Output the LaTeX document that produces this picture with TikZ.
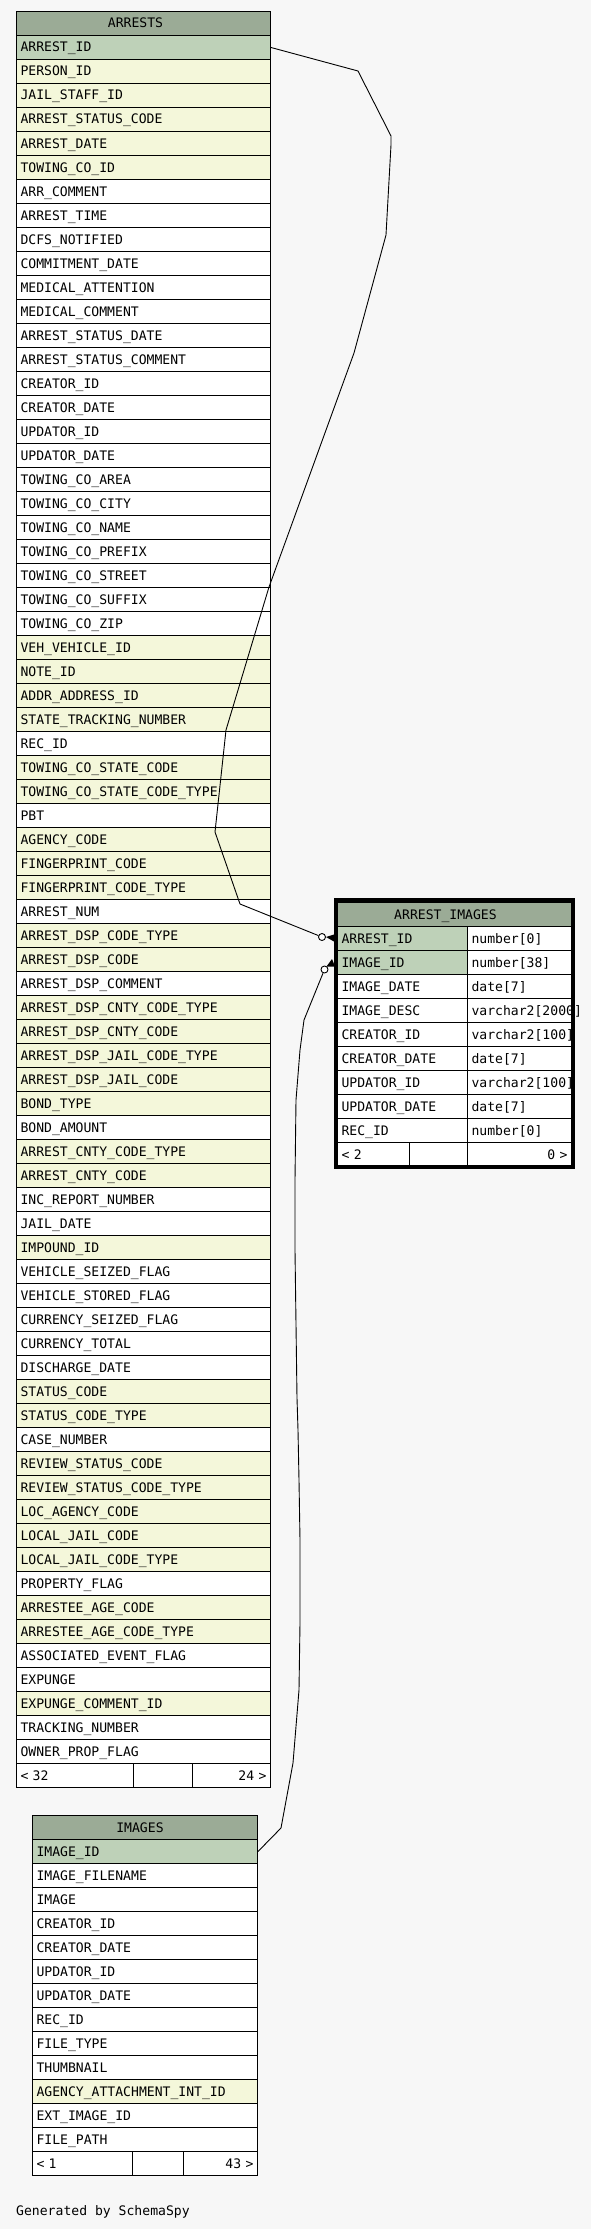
\documentclass[tikz,border=0pt]{standalone}
\usepackage{fontspec}
\newfontfamily\schemafont{DejaVu Sans Mono}
\usetikzlibrary{positioning}
\definecolor{canvas}{HTML}{F7F7F7}
\definecolor{headgreen}{HTML}{9BAB96}
\definecolor{keygreen}{HTML}{BED1B8}
\definecolor{idxyellow}{HTML}{F4F7DA}
\tikzset{
  cellbox/.style={draw=black, line width=1pt, anchor=north west, inner xsep=4pt,
    inner ysep=0pt, minimum height=24pt, text height=10pt, text depth=1pt,
    align=left, text width=#1},
  rcellbox/.style={cellbox=#1, align=right},
  colkey/.style={fill=keygreen},
  colidx/.style={fill=idxyellow},
  colpl/.style={fill=white},
  headcell/.style={draw=black, line width=1pt, fill=headgreen, anchor=north west,
    minimum height=24pt, minimum width=#1, inner sep=0pt},
  headtxt/.style={inner sep=0pt, text height=10pt, text depth=1pt},
  rel/.style={draw=black, line width=0.9pt},
  odot/.style={circle, draw=black, line width=0.9pt, fill=white, minimum size=7pt,
    inner sep=0pt},
  focus/.style={draw=black, line width=3.5pt},
}

\begin{document}
\begin{tikzpicture}[x=1pt, y=-1pt, font=\schemafont\fontsize{13.1pt}{15pt}\selectfont]
  \fill[canvas] (0,0) rectangle (591,2229);

  % ARRESTS
  \node[headcell=254pt] (arr-h) at (16,11) {};
  \node[headtxt] at ([xshift=-8pt]arr-h.center) {ARRESTS};
  \foreach \col/\kind [count=\i] in {ARREST\_ID/colkey, PERSON\_ID/colidx,
      JAIL\_STAFF\_ID/colidx, ARREST\_STATUS\_CODE/colidx, ARREST\_DATE/colidx,
      TOWING\_CO\_ID/colidx, ARR\_COMMENT/colpl, ARREST\_TIME/colpl,
      DCFS\_NOTIFIED/colpl, COMMITMENT\_DATE/colpl, MEDICAL\_ATTENTION/colpl,
      MEDICAL\_COMMENT/colpl, ARREST\_STATUS\_DATE/colpl, ARREST\_STATUS\_COMMENT/colpl,
      CREATOR\_ID/colpl, CREATOR\_DATE/colpl, UPDATOR\_ID/colpl, UPDATOR\_DATE/colpl,
      TOWING\_CO\_AREA/colpl, TOWING\_CO\_CITY/colpl, TOWING\_CO\_NAME/colpl,
      TOWING\_CO\_PREFIX/colpl, TOWING\_CO\_STREET/colpl, TOWING\_CO\_SUFFIX/colpl,
      TOWING\_CO\_ZIP/colpl, VEH\_VEHICLE\_ID/colidx, NOTE\_ID/colidx,
      ADDR\_ADDRESS\_ID/colidx, STATE\_TRACKING\_NUMBER/colidx, REC\_ID/colpl,
      TOWING\_CO\_STATE\_CODE/colidx, TOWING\_CO\_STATE\_CODE\_TYPE/colidx, PBT/colpl,
      AGENCY\_CODE/colidx, FINGERPRINT\_CODE/colidx, FINGERPRINT\_CODE\_TYPE/colidx,
      ARREST\_NUM/colpl, ARREST\_DSP\_CODE\_TYPE/colidx, ARREST\_DSP\_CODE/colidx,
      ARREST\_DSP\_COMMENT/colpl, ARREST\_DSP\_CNTY\_CODE\_TYPE/colidx,
      ARREST\_DSP\_CNTY\_CODE/colidx, ARREST\_DSP\_JAIL\_CODE\_TYPE/colidx,
      ARREST\_DSP\_JAIL\_CODE/colidx, BOND\_TYPE/colidx, BOND\_AMOUNT/colpl,
      ARREST\_CNTY\_CODE\_TYPE/colidx, ARREST\_CNTY\_CODE/colidx,
      INC\_REPORT\_NUMBER/colpl, JAIL\_DATE/colpl, IMPOUND\_ID/colidx,
      VEHICLE\_SEIZED\_FLAG/colpl, VEHICLE\_STORED\_FLAG/colpl,
      CURRENCY\_SEIZED\_FLAG/colpl, CURRENCY\_TOTAL/colpl, DISCHARGE\_DATE/colpl,
      STATUS\_CODE/colidx, STATUS\_CODE\_TYPE/colidx, CASE\_NUMBER/colpl,
      REVIEW\_STATUS\_CODE/colidx, REVIEW\_STATUS\_CODE\_TYPE/colidx,
      LOC\_AGENCY\_CODE/colidx, LOCAL\_JAIL\_CODE/colidx, LOCAL\_JAIL\_CODE\_TYPE/colidx,
      PROPERTY\_FLAG/colpl, ARRESTEE\_AGE\_CODE/colidx, ARRESTEE\_AGE\_CODE\_TYPE/colidx,
      ASSOCIATED\_EVENT\_FLAG/colpl, EXPUNGE/colpl, EXPUNGE\_COMMENT\_ID/colidx,
      TRACKING\_NUMBER/colpl, OWNER\_PROP\_FLAG/colpl}
    \node[cellbox=246pt, \kind] (arr-\i) at (16,{35+24*(\i-1)}) {\col};
  \node[cellbox=109pt, colpl] (arr-f1) at (16,1763) {< 32};
  \node[cellbox=51pt, colpl] (arr-f2) at (133,1763) {};
  \node[rcellbox=70pt, colpl] (arr-f3) at (192,1763) {24 >};

  % IMAGES
  \node[headcell=225pt] (img-h) at (32,1815) {};
  \node[headtxt] at ([xshift=-5pt]img-h.center) {IMAGES};
  \foreach \col/\kind [count=\i] in {IMAGE\_ID/colkey, IMAGE\_FILENAME/colpl,
      IMAGE/colpl, CREATOR\_ID/colpl, CREATOR\_DATE/colpl, UPDATOR\_ID/colpl,
      UPDATOR\_DATE/colpl, REC\_ID/colpl, FILE\_TYPE/colpl, THUMBNAIL/colpl,
      AGENCY\_ATTACHMENT\_INT\_ID/colidx, EXT\_IMAGE\_ID/colpl, FILE\_PATH/colpl}
    \node[cellbox=217pt, \kind] (img-\i) at (32,{1839+24*(\i-1)}) {\col};
  \node[cellbox=92pt, colpl] (img-f1) at (32,2151) {< 1};
  \node[cellbox=43pt, colpl] (img-f2) at (132,2151) {};
  \node[rcellbox=66pt, colpl] (img-f3) at (183,2151) {43 >};

  % ARREST_IMAGES
  \node[headcell=234pt] (ai-h) at (337,902) {};
  \node[headtxt] at ([xshift=-9pt]ai-h.center) {ARREST\_IMAGES};
  \foreach \col/\type/\kind [count=\i] in {ARREST\_ID/number[0]/colkey,
      IMAGE\_ID/number[38]/colkey, IMAGE\_DATE/date[7]/colpl,
      IMAGE\_DESC/varchar2[2000]/colpl, CREATOR\_ID/varchar2[100]/colpl,
      CREATOR\_DATE/date[7]/colpl, UPDATOR\_ID/varchar2[100]/colpl,
      UPDATOR\_DATE/date[7]/colpl, REC\_ID/number[0]/colpl} {
    \node[cellbox=122pt, \kind] (ai-\i) at (337,{926+24*(\i-1)}) {\col};
    \node[cellbox=96pt, colpl] (ai-\i t) at (467,{926+24*(\i-1)}) {\type};
  }
  \node[cellbox=64pt, colpl] (ai-f1) at (337,1142) {< 2};
  \node[cellbox=50pt, colpl] (ai-f2) at (409,1142) {};
  \node[rcellbox=96pt, colpl] (ai-f3) at (467,1142) {0 >};

  % relationships
  \node[odot] (d1) at (322,937) {};
  \node[odot] (d2) at (324.5,969.5) {};
  \draw[rel] (arr-1.east) -- (358,71) -- (391,136) -- (391,145) -- (386,235)
    -- (354,353) -- (269,587) -- (226,730) -- (215,832) -- (240,904) -- (d1);
  \fill (d1.east) -- ([shift={(-3,-4)}]ai-1.west) -- ([shift={(-3,3)}]ai-1.west) -- cycle;
  \draw[rel] (img-1.east) -- (281,1828) -- (293,1763) -- (299,1690) -- (300,1623)
    -- (300,1540) -- (299,1480) -- (298,1430) -- (297,1398) -- (295,1250)
    -- (295,1180) -- (296,1100) -- (300,1050) -- (304,1020) -- (d2);
  \fill ([shift={(-5,-3.5)}]ai-2.west) -- ([shift={(-10.5,4)}]ai-2.west)
    -- ([shift={(-2,4)}]ai-2.west) -- cycle;
  \draw[focus] ([xshift=-1.5pt,yshift=2pt]ai-h.north west)
    rectangle ([xshift=1.5pt]ai-f3.south east);

  \node[anchor=base west, inner sep=0pt] (gen) at (16,2215) {Generated by SchemaSpy};
\end{tikzpicture}
\end{document}
